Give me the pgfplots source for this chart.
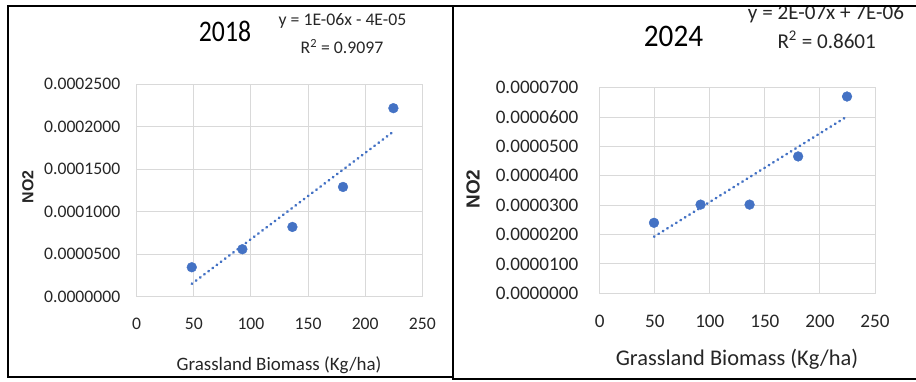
\documentclass[border=0pt]{standalone}
\usepackage{fontspec}
\setmainfont{Carlito}
\newfontfamily\titleA[FakeStretch=0.86]{Carlito}
\newfontfamily\titleB[FakeStretch=0.93]{Carlito}
\newfontfamily\arialfont{Liberation Sans}
\usepackage{pgfplots}
\usepackage{pgfplotstable}
\pgfplotsset{compat=1.18}

\definecolor{xlblue}{HTML}{4472C4}
\definecolor{xlgrid}{HTML}{D9D9D9}
\definecolor{xltext}{HTML}{262626}

% NO2 against grassland biomass, 2018
\pgfplotstableread{
x      y
48.2   0.0000346
92.5   0.0000558
136.3  0.0000820
180.6  0.0001290
224.7  0.0002216
}\dataA

% NO2 against grassland biomass, 2024
\pgfplotstableread{
x      y
49.3   0.0000240
91.6   0.0000302
136.1  0.0000302
180.2  0.0000466
224.6  0.0000670
}\dataB

\pgfplotsset{
  xlscatter/.style={
    anchor=south west, scale only axis,
    xmin=0, xmax=250,
    xtick={0,50,100,150,200,250},
    xticklabels={0,50,100,150,200,250},
    scaled y ticks=false,
    grid=major,
    major grid style={draw=xlgrid, line width=0.9bp},
    axis line style={draw=xlgrid, line width=0.9bp},
    major tick length=0pt,
    tick label style={text=xltext},
    clip=false,
  },
  xlpts/.style={only marks, mark=*, mark size=4.9bp, color=xlblue,
    mark options={draw=xlblue, fill=xlblue}},
  xltrend/.style={no marks, color=xlblue, line width=2.6bp, line cap=round,
    dash pattern=on 0.6bp off 4.6bp},
}

\begin{document}
\begin{tikzpicture}
\path[use as bounding box] (0,0) rectangle (916bp,-382bp);

% ---------- 2018 ----------
\begin{axis}[xlscatter,
  at={(136.7bp,-296.7bp)}, width=285.6bp, height=212.7bp,
  ymin=0, ymax=0.00025,
  ytick={0,0.00005,0.0001,0.00015,0.0002,0.00025},
  yticklabels={0.0000000,0.0000500,0.0001000,0.0001500,0.0002000,0.0002500},
  tick label style={font=\fontsize{17.7}{21}\selectfont},
  yticklabel style={xshift=-13bp},
  xticklabel style={yshift=-18bp},
]
\addplot[xltrend] table[x=x, y={create col/linear regression={y=y}}] {\dataA};
\addplot[xlpts] table[x=x, y=y] {\dataA};
\end{axis}

% ---------- 2024 ----------
\begin{axis}[xlscatter,
  at={(599.7bp,-293.3bp)}, width=275.3bp, height=205.6bp,
  ymin=0, ymax=0.00007,
  ytick={0,0.00001,0.00002,0.00003,0.00004,0.00005,0.00006,0.00007},
  yticklabels={0.0000000,0.0000100,0.0000200,0.0000300,0.0000400,0.0000500,0.0000600,0.0000700},
  tick label style={font=\fontsize{19.2}{23}\selectfont},
  yticklabel style={xshift=-18bp},
  xticklabel style={yshift=-18.5bp},
]
\addplot[xltrend] table[x=x, y={create col/linear regression={y=y}}] {\dataB};
\addplot[xlpts] table[x=x, y=y] {\dataB};
\end{axis}

% titles, regression equations, axis titles
\begin{scope}[every node/.style={inner sep=0pt, text=black}]
\node[anchor=base] at (225bp,-41.7bp) {\titleA\fontsize{30}{36}\selectfont 2018};
\node[anchor=base, text=xltext] at (342.5bp,-25bp) {\fontsize{17.8}{21}\selectfont y = 1E-06x - 4E-05};
\node[anchor=base, text=xltext] at (342bp,-53.3bp) {\fontsize{17.8}{21}\selectfont R\textsuperscript{2} = 0.9097};
\node[anchor=base, text=xltext] at (279bp,-370bp) {\fontsize{19}{23}\selectfont Grassland Biomass (Kg/ha)};
\node[rotate=90, text=xltext] at (28bp,-187bp) {\arialfont\bfseries\fontsize{16}{19}\selectfont NO2};

\node[anchor=base] at (673.5bp,-46.7bp) {\titleB\fontsize{31.5}{38}\selectfont 2024};
\node[anchor=base, text=xltext] at (826bp,-19.3bp) {\fontsize{21.2}{25}\selectfont y = 2E-07x + 7E-06};
\node[anchor=base, text=xltext] at (826.7bp,-48.3bp) {\fontsize{21.2}{25}\selectfont R\textsuperscript{2} = 0.8601};
\node[anchor=base, text=xltext] at (737bp,-365bp) {\fontsize{22.5}{27}\selectfont Grassland Biomass (Kg/ha)};
\node[rotate=90, text=xltext] at (473bp,-189bp) {\arialfont\bfseries\fontsize{19}{22}\selectfont NO2};
\end{scope}

% panel frame
\fill[white] (0,0) rectangle (916bp,-5bp);
\begin{scope}[line width=2.6bp, draw=black]
\draw (7bp,-6bp) -- (916bp,-6bp);
\draw (8bp,-6bp) -- (8bp,-378bp);
\draw (7bp,-377bp) -- (454bp,-377bp);
\draw (453bp,-6bp) -- (453bp,-380bp);
\draw (452bp,-379bp) -- (916bp,-379bp);
\end{scope}
\end{tikzpicture}
\end{document}
